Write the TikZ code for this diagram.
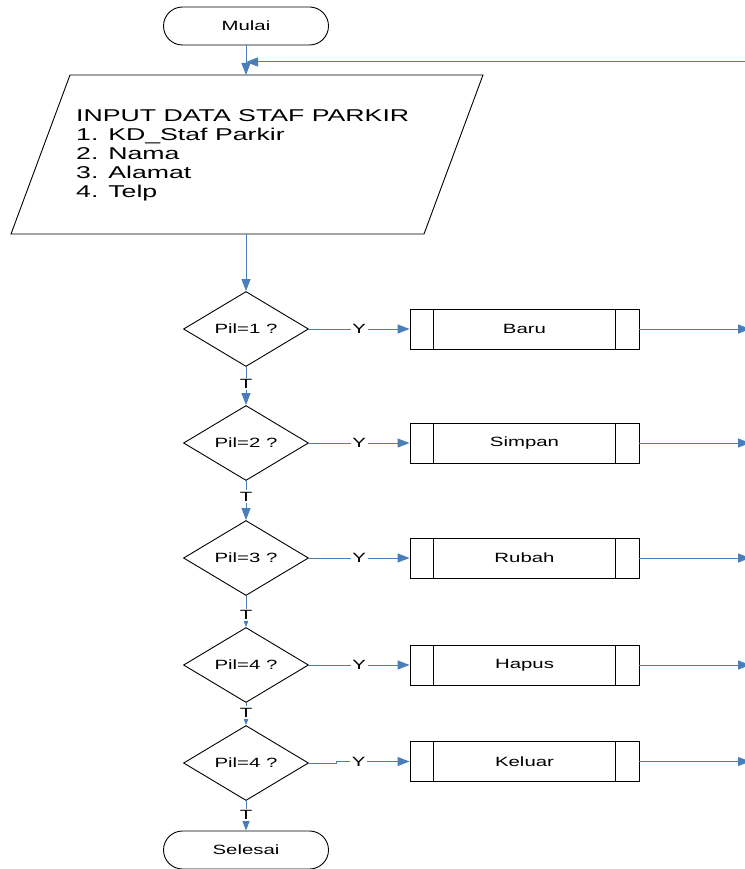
\documentclass[tikz,border=0pt]{standalone}
\usepackage{fontspec}
\setmainfont{Liberation Sans}
\usepackage{graphicx}
\usetikzlibrary{shapes.geometric,arrows.meta}
\definecolor{flowblue}{RGB}{74,126,187}
% horizontally widened lettering
\newcommand\wtxt[1]{\scalebox{1.52}[1]{#1}}
\newcommand\wbig[1]{\scalebox{1.56}[1]{#1}}
\begin{document}
\begin{tikzpicture}[x=1pt,y=-1pt,
  every node/.style={font=\fontsize{13.4}{16}\selectfont},
  term/.style={draw, line width=0.9pt, rectangle, rounded corners=19pt,
    minimum width=165pt, minimum height=38pt, inner sep=0pt},
  dia/.style={draw, line width=0.9pt, diamond, minimum width=125pt,
    minimum height=75pt, inner sep=0pt},
  proc/.style={draw, line width=0.9pt, rectangle, minimum width=229pt,
    minimum height=40pt, inner sep=0pt,
    path picture={\draw[line width=1.1pt]
      ([xshift=23.5pt]path picture bounding box.north west) --
      ([xshift=23.5pt]path picture bounding box.south west)
      ([xshift=-23.5pt]path picture bounding box.north east) --
      ([xshift=-23.5pt]path picture bounding box.south east);}},
  flow/.style={draw=flowblue, line width=1pt,
    -{Triangle[length=12pt,width=9pt]}},
  lbl/.style={fill=white, inner sep=1.5pt, text=black}]
\useasboundingbox (0,0) rectangle (744,869);

% start / end
\node[term] (mulai) at (246,26) {\wtxt{Mulai}};
\node[term] (selesai) at (246,850) {\wtxt{Selesai}};

% input parallelogram
\draw[line width=0.9pt] (70,75) -- (483,75) -- (424,234) -- (11,234) -- cycle;
\coordinate (inTop) at (246,75);
\coordinate (inBot) at (246,234);
\node[anchor=north west, inner sep=0pt, align=left,
  font=\fontsize{17.1}{19}\selectfont] (inptxt) at (76,109.3)
  {\wbig{INPUT DATA STAF PARKIR}\\
   \wbig{1. KD\_Staf Parkir}\\
   \wbig{2. Nama}\\
   \wbig{3. Alamat}\\
   \wbig{4. Telp}};

% decisions
\node[dia] (d1) at (246,329) {\wtxt{Pil=1 ?}};
\node[dia] (d2) at (246,443) {\wtxt{Pil=2 ?}};
\node[dia] (d3) at (246,558) {\wtxt{Pil=3 ?}};
\node[dia] (d4) at (246,665) {\wtxt{Pil=4 ?}};
\node[dia] (d5) at (246,763) {\wtxt{Pil=4 ?}};

% processes
\node[proc] (b1) at (524.5,329) {\wtxt{Baru}};
\node[proc] (b2) at (524.5,443) {\wtxt{Simpan}};
\node[proc] (b3) at (524.5,558) {\wtxt{Rubah}};
\node[proc] (b4) at (524.5,665) {\wtxt{Hapus}};
\node[proc] (b5) at (524.5,761.5) {\wtxt{Keluar}};

% loop-back entry from the right
\coordinate (ret) at (750,62);

% main flow
\draw[flow] (mulai.south) -- (inTop);
\draw[flow] (ret) -- (ret -| mulai.south);
\draw[flow] (inBot) -- (d1.north);

\draw[flow] (d1.south) -- node[lbl,pos=.45]{\wtxt{T}} (d2.north);
\draw[flow] (d2.south) -- node[lbl,pos=.4]{\wtxt{T}} (d3.north);
\draw[flow] (d3.south) -- node[lbl,pos=.6]{\wtxt{T}} (d4.north);
\draw[flow] (d4.south) -- node[lbl,pos=.43]{\wtxt{T}} (d5.north);
\draw[flow] (d5.south) -- node[lbl,pos=.47]{\wtxt{T}} (selesai.north);

% yes branches
\draw[flow] (d1.east) -- node[lbl]{\wtxt{Y}} (b1.west);
\draw[flow] (d2.east) -- node[lbl]{\wtxt{Y}} (b2.west);
\draw[flow] (d3.east) -- node[lbl]{\wtxt{Y}} (b3.west);
\draw[flow] (d4.east) -- node[lbl]{\wtxt{Y}} (b4.west);
\draw[flow] (d5.east) -- ++(28,0) |- node[lbl,pos=.65]{\wtxt{Y}} (b5.west);

% exits to the right
\foreach \b in {b1,b2,b3,b4,b5}
  \draw[flow] (\b.east) -- (\b.east -| ret);
\end{tikzpicture}
\end{document}
